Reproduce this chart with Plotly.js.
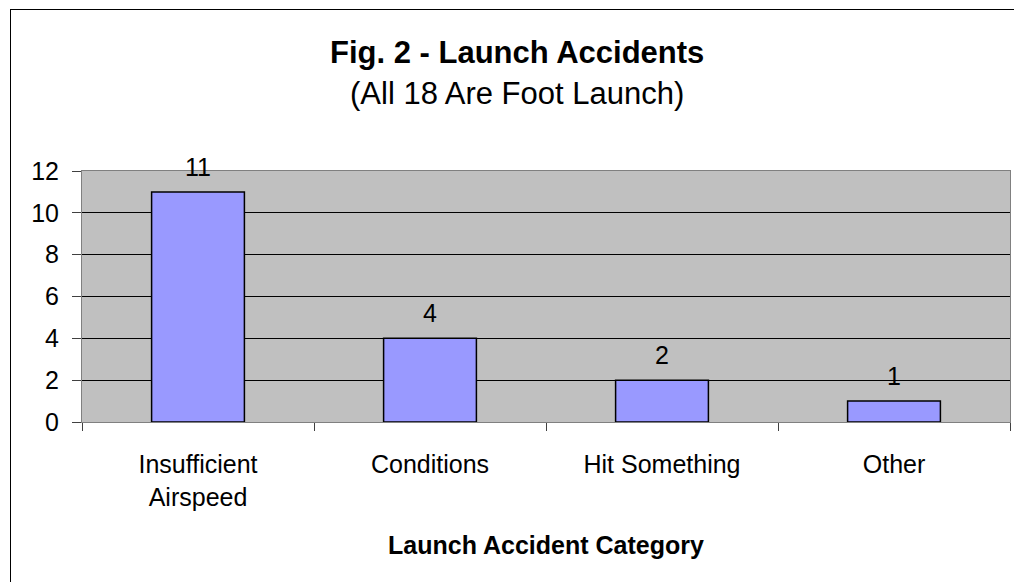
<!DOCTYPE html>
<html>
<head>
<meta charset="utf-8">
<script src="https://cdn.plot.ly/plotly-3.0.1.min.js"></script>
<style>
  html, body { margin: 0; padding: 0; background: #fff; overflow: hidden; }
  #wrap { position: relative; width: 1014px; height: 582px; overflow: hidden; }
  #chart { position: absolute; left: 0; top: 0; width: 1014px; height: 582px; }
  #frame { position: absolute; left: 10px; top: 9px; width: 1100px; height: 700px;
           border: 1px solid #000; pointer-events: none; }
</style>
</head>
<body>
<div id="wrap">
  <div id="chart"></div>
  <div id="frame"></div>
</div>
<script>
const categories = ["Insufficient<br>Airspeed", "Conditions", "Hit Something", "Other"];
const accidents = [11, 4, 2, 1];
const yTickValues = [0, 2, 4, 6, 8, 10, 12];
const chartTitle = "Fig. 2 - Launch Accidents";
const chartSubtitle = "(All 18 Are Foot Launch)";
const xTitle = "Launch Accident Category";

const FONT = "Liberation Sans, Arial, Helvetica, sans-serif";

const trace = {
  type: "bar",
  x: categories,
  y: accidents,
  width: 0.4,
  marker: { color: "#9999FF", line: { color: "#000000", width: 1.5 } },
  hoverinfo: "x+y",
  showlegend: false
};

const labelAnnotations = categories.map((c, i) => ({
  x: c, y: accidents[i], xref: "x", yref: "y",
  text: String(accidents[i]), showarrow: false,
  yanchor: "middle", yshift: 25,
  font: { family: FONT, size: 25, color: "#000" }
}));

const layout = {
  width: 1014, height: 582,
  margin: { l: 82, r: 4, t: 171, b: 160 },
  paper_bgcolor: "#ffffff",
  plot_bgcolor: "#C0C0C0",
  font: { family: FONT, size: 25, color: "#000" },
  xaxis: {
    type: "category",
    tickson: "boundaries",
    ticks: "outside", ticklen: 8, tickcolor: "#404040", tickwidth: 1,
    showline: true, linecolor: "#808080", linewidth: 1, mirror: true,
    showgrid: false, zeroline: false,
    tickfont: { family: FONT, size: 25, color: "#000" },
    ticklabelstandoff: 20,
    title: { text: "<b>" + xTitle + "</b>", font: { family: FONT, size: 25, color: "#000" }, standoff: 26 },
    automargin: false,
    fixedrange: true
  },
  yaxis: {
    range: [0, 12],
    tickvals: yTickValues,
    ticks: "outside", ticklen: 9, tickcolor: "#404040", tickwidth: 1,
    showline: true, linecolor: "#808080", linewidth: 1, mirror: true,
    showgrid: true, gridcolor: "#000000", gridwidth: 1,
    zeroline: false,
    tickfont: { family: FONT, size: 25, color: "#000" },
    ticklabelstandoff: 8,
    automargin: false,
    fixedrange: true
  },
  annotations: [
    { text: "<b>" + chartTitle + "</b>", xref: "paper", yref: "paper",
      x: (517 - 82) / 928, y: (422 - 52) / 251, xanchor: "center", yanchor: "middle",
      showarrow: false, font: { family: FONT, size: 31, color: "#000" } },
    { text: chartSubtitle, xref: "paper", yref: "paper",
      x: (517 - 82) / 928, y: (422 - 93) / 251, xanchor: "center", yanchor: "middle",
      showarrow: false, font: { family: FONT, size: 31, color: "#000" } }
  ].concat(labelAnnotations)
};

Plotly.newPlot("chart", [trace], layout, { displayModeBar: false, staticPlot: true });
</script>
</body>
</html>
